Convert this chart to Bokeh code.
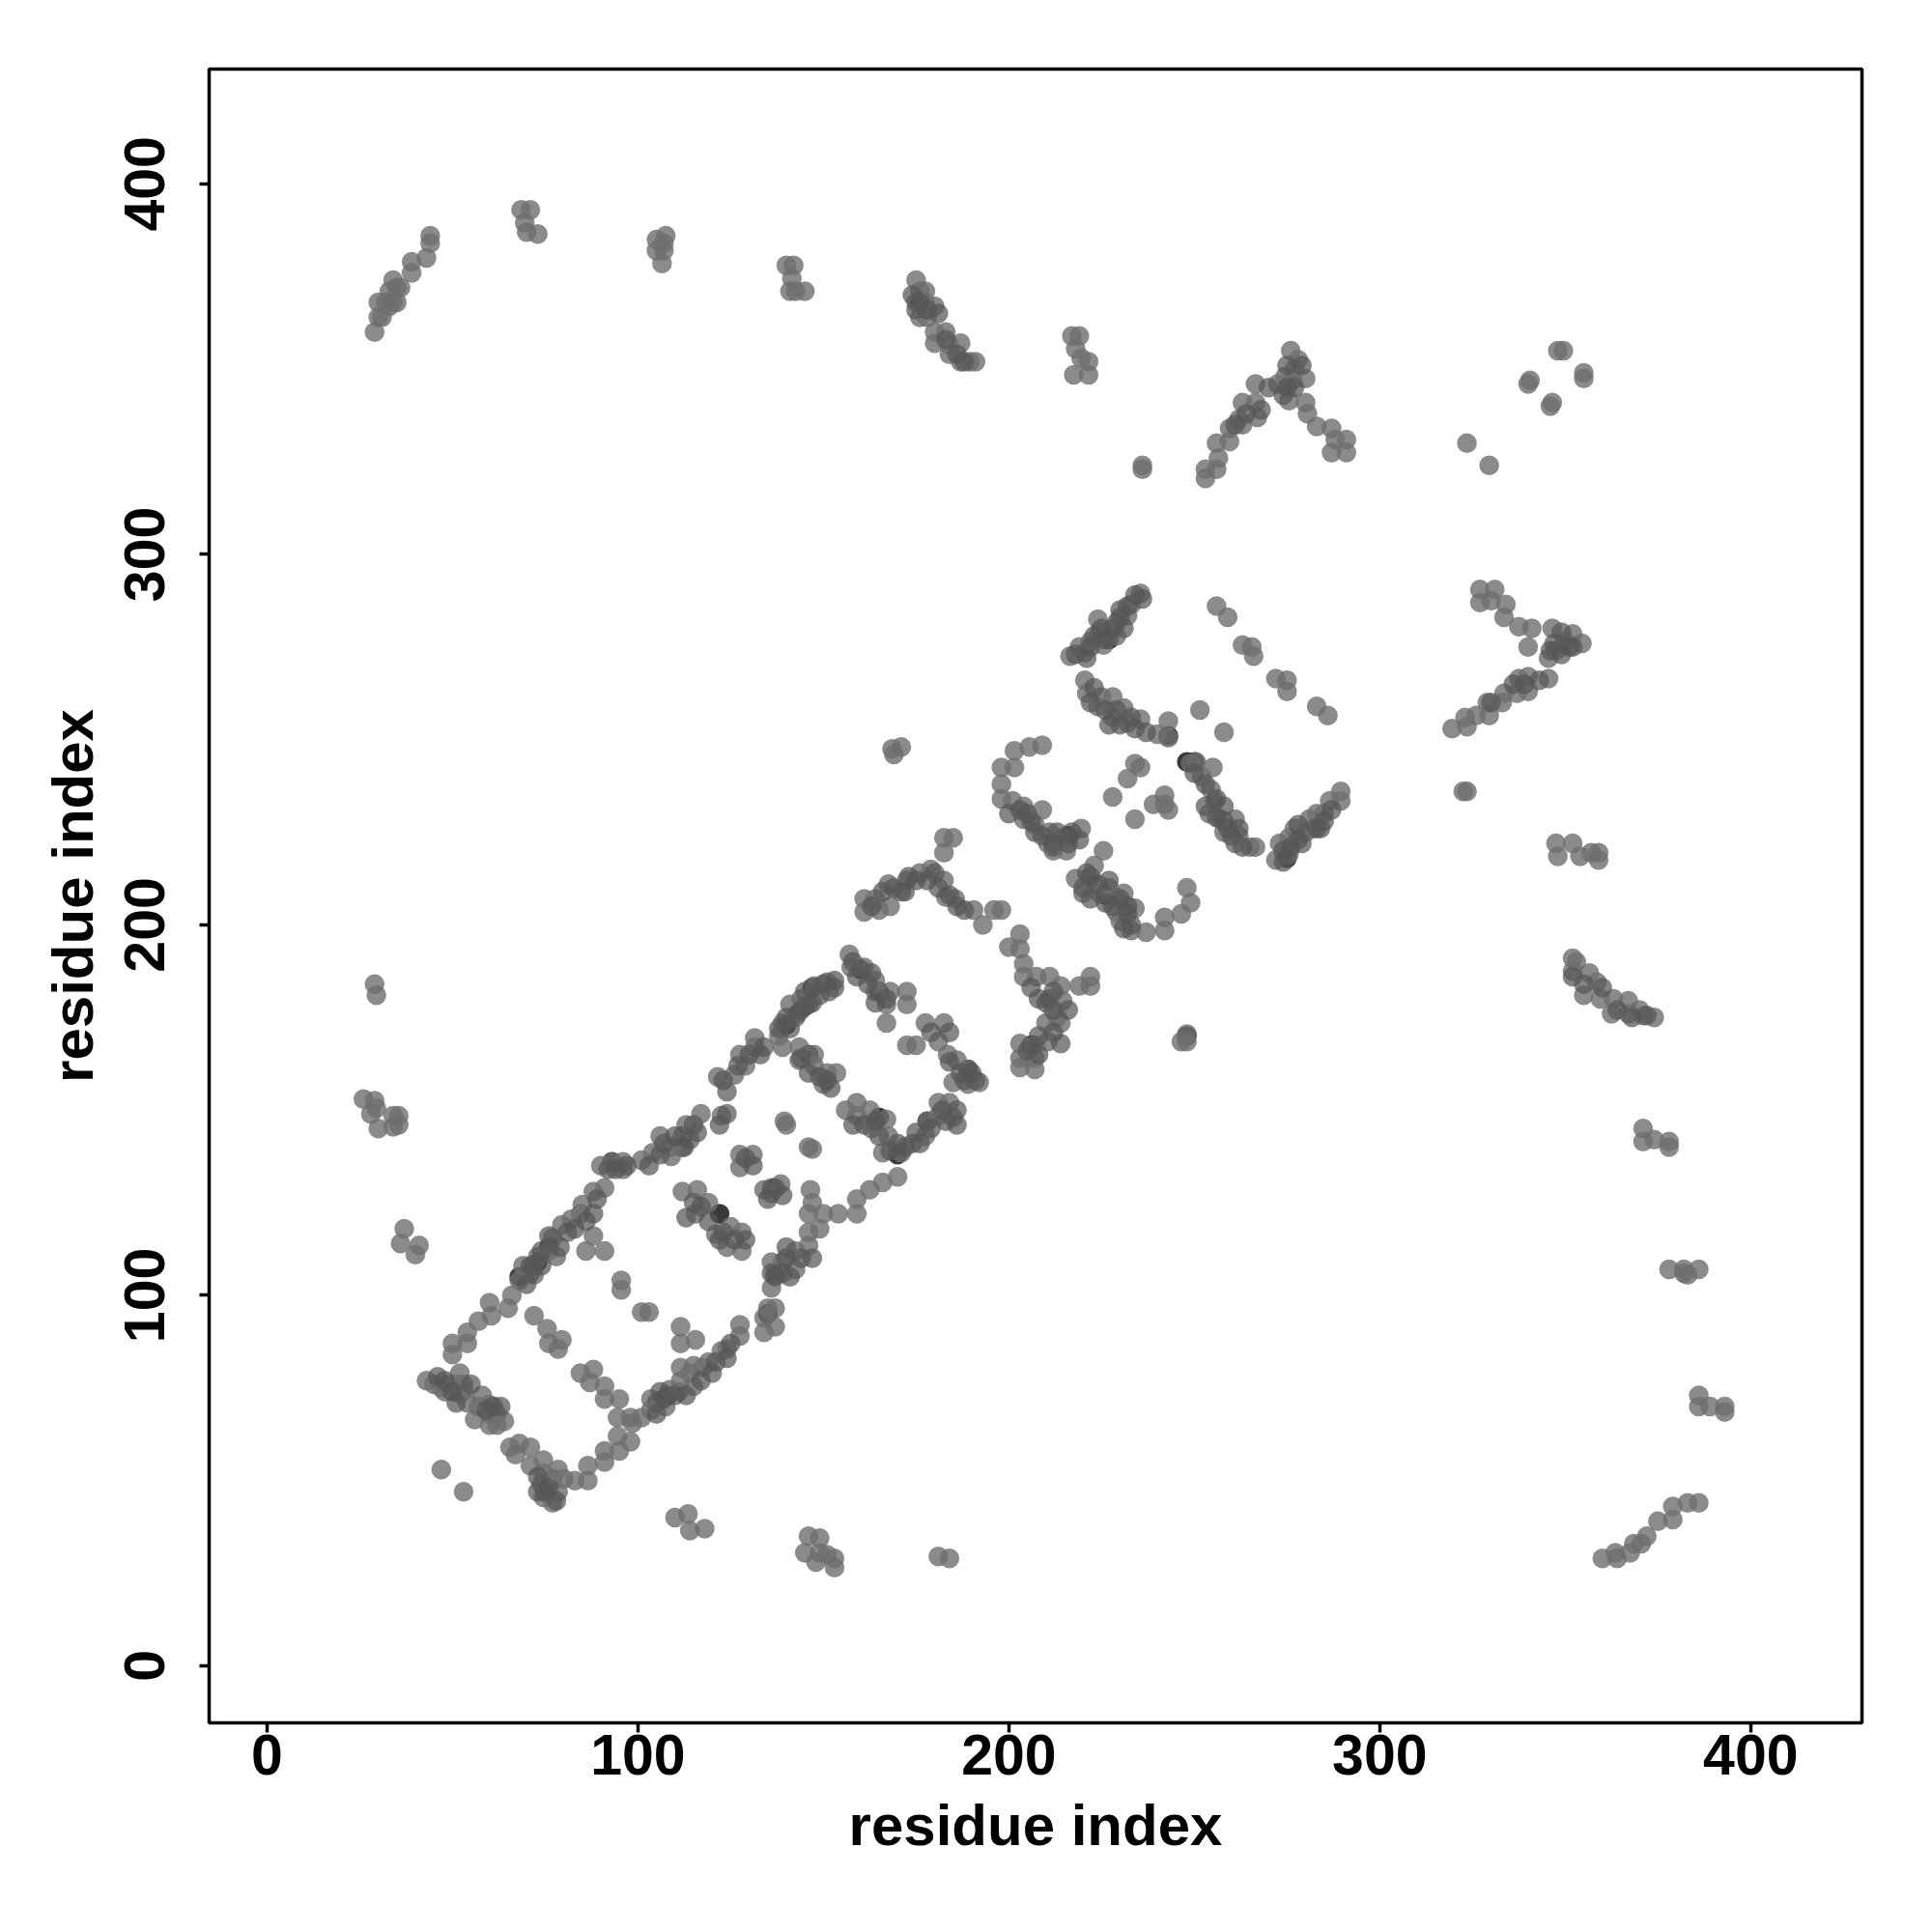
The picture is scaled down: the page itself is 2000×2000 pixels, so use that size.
from bokeh.plotting import figure
from bokeh.embed import file_html
from bokeh.resources import INLINE
from bokeh.models import FixedTicker

tick_values = [0, 100, 200, 300, 400]
x_label = "residue index"
y_label = "residue index"

arc_top = [(29,360),(30,364),(31,364),(30,368),(32,368),(33,367),(34,368),(33,371),(35,372),(35,368),(36,372),(34,374),(39,379),(39,376),(43,380),(44,384),(44,386),
 (68.5,393),(71,393),(69.5,389.5),(70,387),(73,386.5),
 (105,385),(107.5,386),(105,382),(107,382),(106.5,378.5),(107,384),
 (140,378),(142,378),(141.5,374.5),(141,371),(142.5,371),(145,371),
 (175,374),(176,371),(177.5,371),(175,368),(177.5,368),(180,367),(176,364),(178,364),(180,360),(183,360),(180,357),(184,356.5),(187,357),(184,354),(187,352),(189.5,352),(191,352),
 (217,359),(219,359),(218,355.5),(219.5,353),(217.5,348.5),(221.5,348.5),(221.5,352),(236,324),(236,323),
 (253,320.5),(253,323),(256,323),(256.5,326),(256,330),(259.5,330.5),(259.5,334),(262,336.5),(263,335),(267,337),(263,341),(266.5,341),(266.5,346),(272.5,346),(274.5,348),(277,350),(276.5,347),(280,347.5),(276,355),(278,352.5),(275.5,341.5),(280,341),(280.5,338),(283,334.5),(287,334),(291,331),(288,331),(291,327.5),(287,327.5),
 (323.5,330),(329.5,324),(340.5,347),(340,346),(346.5,341),(346,340),(348,355),(349.5,355),(355,349),(355,347.5)]

arc_right = [(347.5,222),(352,222),(348,218.5),(354,218.5),(357,219.5),(359,219.5),(359,217.5),
 (352,191),(353,190),(352,187.5),(356.5,187),(358.5,184.5),(355,181),(359.5,180),(363,180),(367,179.5),(362.5,176),(367,176),(370,177),(374,175),(371,175.5),
 (371,145),(371,141.5),(374,142),(378,141.5),(378,140),
 (378,107),(382,107),(383,105.5),(386,107),(382,106),
 (386,73),(386,70),(389,70),(393,70),(393,68.5),
 (360,29),(364,29),(367.5,30.5),(368.5,33),(372,35),(375,39),(379,43),(383,44),(386,44),(363.5,30.5),(370.5,33),(379,39.5)]

arc_bottom_left = [(110,40),(113.5,41),(114,36.5),(118,37),(146,35),(149,34.5),(145,30.5),(149,30.5),(151,30),(153,29),(153,26.5),(148,28),(181,29.5),(184,29),
 (29,184),(29.5,181),(26,153),(29,152.5),(29.5,150.5),(28,149),(30,145),(34,148.5),(35.5,148.5),(34,145.5),(35.5,146),
 (37,118),(36,114),(41,113.5),(40,111),(47,53),(53,47)]

strand_upper = [(43,77),(45,76),(47,75),(49,76),(51,76),(48,74),(52,73.5),(53,76),(52,79),(53,74),(54,71),(58,73),(57,70),(60,68),(60,65),(62,68),(62,65),(64,66),
 (50,87),(50,84),(54,87),(54,90),(57,93),(60.5,94.5),(60,98),(65,96.5),(66,100),(68,104),(69,108),(72,105.5),(73,110.5),(76,112),(78,110.5),(77,115.5),(79.5,119),(82,120.5),(84.5,122),(85,124.5),(88,128),(91,129),(90,135),(93,136),(96,136),(96,134),(101,136.5),(104,138.5),(106,143),(109,140),(109,137.5),(112.5,140),(113,146),(117,149),(122.5,148.5),(121.5,159),(126,159.5),(129,162),(131.5,167),(131.5,169.5),(127.5,165),
 (88,116),(91,112),(86,112),(72,94.5),(75.5,91),(76,87),(79.5,88),(78.5,85.5),(95.5,104),(95.5,101.5),(101,95.5),(103,95.5),
 (84.5,79),(88,80),(87,76.5),(91,75.5),(91,72),(95,72),(94.5,67),(98,67)]

strand_lower = [(56,66.5),(60,70.5),(65.5,59),(68,60),(71,59),(67,57),(71,54),(74.5,55.5),(74.5,52),(78.5,53),(77,50.5),(74,49),(74.5,45.5),(77,44),(78.5,47),(80,50.5),(83,50),(86.5,50),(86.5,54),(91,55),(91,58),(95,58),(94.5,62),(98,60.5),(98.5,65.5),(101,67),(103.5,72),(103.5,69),(107.5,70),(108.5,74.5),(111,74),(111.5,77),(115,75.5),(114,79),(117.5,80.5),(119,82),(122.5,85),(124,85.5),(127.5,89),(127.5,92),
 (111.5,91.5),(111.5,87),(115.5,88),(111.5,80.5),(115,81),
 (135,96.5),(137,96.5),(134,94),(137,91.5),(134,90),(136,102),(137,105.5),(136,109),(139,109),(142.5,107),(142.5,112),(146,113.5),(149,118),(146,117),(146,122),(147,125),(146.5,128.5),(150,122),(154,122),(159,122),(159,126),(162.5,128.5),(166,130.5),(170,132)]

inner_left = [(112,128),(116,128.5),(119,125),(115.5,122),(121,116.5),(125,118.5),(128,117),(124,113),(128,112),(127.5,138),(131,138),(127.5,134.5),(134,128.5),(138.5,130),(136,127.5),(139.5,147),(140,146),(146,140),(147,139.5)]

block_mid = [(138,170),(139,167),(139,173.5),(141,178.5),(142.5,175),(144,180),(146,178.5),(147.5,183.5),(151,184.5),(151.5,182),(157,192),(157.5,188.5),(161,188.5),(164,185),(164,182),(168,182),(172.5,182),(172.5,178.5),(167,178.5),(167,173.5),
 (143.5,167),(143.5,163.5),(147.5,165),(147.5,162),(151,160),(150,157),(153.5,160),
 (156,150),(159,152),(159,148.5),(162.5,150),(163,145),(167,147.5),(167.5,143),(166,138.5),(171,138.5),(174,141),(177.5,143),(178,147),(181,148.5),(184,152),(181,152),(185,148),
 (172.5,167.5),(175,167.5),(177.5,173.5),(182.5,173.5),(181,168.5),(183.5,165),(186,163.5),(189,161),(185,157.5),(189,157),(192,157.5)]

block_y = [(161,207),(161,203.5),(164,207),(165,204),(168,205),(167.5,211),(172.5,212),(176,214),(179,215),(182.5,212),(183,207.5),(185.5,207),(190.5,204),(182.5,219.5),(182.5,223.5),(185,223.5),(193,200),(196,204),(198,204),
 (200,194),(203,197.5),(203,193.5),(204,189.5),(204,186),(207.5,186),(211,186),(214,183.5),(219,183.5),(222,183.5),(222,186),(211,180),(214.5,179.5),(213,175),(210,173.5),(214,173.5),(210.5,168.5),(207,167.5),(203,168),(203,164),(203,161.5),(207,161),(207,164),
 (248,170.5),(248,168.5),(246.5,168.5),(168.5,247.5),(171,248),(169,246)]

block_e = [(198,242.5),(198,238),(198,234),(201.5,242.5),(201.5,247),(205.5,248),(209,248.5),(201,233.5),(204,232),(204,228.5),(209,231),(207,227),(211,225),(210.5,222),(214.5,223.5),(215.5,220),(212,220),(219.5,226),
 (225.5,220),(223,216),(218,212.5),(220,208.5),(222,213),(224.5,208.5),(227,210),(229,207.5),(231,208.5),(229,203.5),(230,201),(234,204.5),(233,198.5),(237,198),(242,198.5),(242,202),(246.5,203),(249,206),(248,210),
 (216.5,272.5),(219,275),(222,276.5),(220.5,273.5),(224.5,279),(225.5,275.5),(229,281.5),(229,278),(233,286.5),(232,283.5),(235.5,289.5),(224,282.5),
 (220.5,266),(221,262.5),(225,261.5),(228,261.5),(224,259),(228,256),(231,258.5),(232,254.5),(235.5,255.5),(243,255),(240,251.5),(243,250.5),
 (234,243.5),(235.5,242.5),(232,239.5),(228,234.5),(242,235),(242,232.5),(239,232.5),(234,228.5),(243,231)]

block_right = [(251.5,258),(258,252),(256,286),(259,283),(263,275.5),(265.5,275),(266,272.5),(272,266.5),(275,266),(275,263),(283,259),(286,256.5),
 (249,243.5),(250.5,244),(252,240),(255,242.5),(254.5,236.5),(255.5,233.5),(254,230),(257,228.5),(261,228.5),(258,225),(262,224),(265,221),(261,222),(266.5,221),
 (272,217.5),(275.5,219),(273,222),(275.5,223.5),(277,226),(280,225),(281,228.5),(283,230),(285,230),(286.5,233.5),(289.5,236),(289.5,233.5),(282,226),
 (319.5,253),(323.5,253.5),(323,256),(326,256.5),(329.5,256.5),(329,260),(333,260),(333.5,262.5),(337,262.5),(337.5,266.5),(340,263),(340,267),(345.5,266.5),(345.5,272),(347.5,274),(350,276.5),(346.5,280),(354.5,276),(352,278.5),(340,275),(341,280),(337.5,280.5),(333.5,283),(334,286.5),(330,287.5),(331,290.5),(327,287),(327,290.5),(323.5,236),(322.5,236)]

dark_pts = [(73,109),(71,106),(108,73),(105,71),(250,244),(248,244),(243,251),(206,167.5),(248,170),(160,188),(165,182),(147,183),(145,178),(112,140),(93,136),(140,173),(76,113),(68,105),(212,221),(216,224),(222,213),(226,208),(232,205),(189,161),(178,147),(170,138),(135,95),(122,122),(137,129),(275,218),(258,228),(227,277),(146,165),(165,148)]

extra_upper = [(70,103),(71,108),(74,108),(74,112),(79,113),(81,117),(83,118),(86,120),(88,122),(89,126),(92,134),(94,134),(97,135),(103,135),(106,138),(107,141),(110,143),(112,143),(114,142),(115,146),(116,144),(122,146),(124,149),(124,155),(123,158),(127,162),(130,165),(133,165),(134,167),(72,108),(76,116),(55,76),(59,69),(46,78),(48,77),(50,74),(51,71),(61,70),(63,70)]
extra_mid = [(138,172),(140,175),(141,172),(143,176),(144,177),(145,182),(147,179),(149,181),(150,184),(153,183),(153,185),(158,190),(159,186),(162,184),(163,187),(164,179),(167,180),(144,164),(146,160),(149,159),(151,158),(152,156),(158,146),(161,146),(164,147),(165,143),(168,139),(170,141),(172,140),(175,144),(176,141),(179,145),(182,150),(183,147),(186,150),(186,146),(179,171),(184,171),(184,163),(187,160),(188,158),(190,160),(191,158)]
extra_y = [(163,205),(166,209),(169,210),(171,209),(173,213),(175,212),(178,212),(180,214),(181,210),(184,208),(186,205),(188,204),(172,209),(206,183),(208,180),(210,179),(212,182),(212,177),(216,177),(212,171),(214,168),(208,170),(205,166),(208,165)]
extra_e = [(200,230),(203,231),(205,230),(207,225),(209,224),(206,228),(212,222),(213,225),(216,222),(217,225),(219,223),(220,210),(221,214),(222,207),(224,211),(226,206),(227,212),(228,205),(230,207),(232,203),(233,200),(231,199),(218,273),(221,272),(222,275),(223,278),(225,280),(226,277),(228,280),(230,283),(231,280),(232,286),(234,289),(236,288),(230,285),(222,260),(223,264),(226,258),(227,254),(229,258),(230,254),(233,256),(234,253),(237,252)]
extra_right = [(250,241),(253,238),(253,232),(256,234),(258,232),(256,229),(259,226),(260,224),(262,226),(263,221),(274,217),(274,220),(276,221),(278,223),(278,227),(279,222),(283,226),(284,226),(285,228),(287,231),(330,260),(336,265),(339,265),(343,266),(346,274),(349,273),(349,279),(351,275),(347,276),(352,275),(355,184),(360,183),(352,186),(364,177),(368,175),(372,175.5)]
extra_lower = [(73,47),(75,47),(78,44.5),(76,48),(73,51),(107,72),(105,68),(110,73),(113,73),(106,74),(117,77),(120,79),(124,83),(125,87),(121,82),(113,121),(117,124),(119,120),(115,125),(123,117),(122,115),(126,115),(129,115),(131,135),(129,137),(135,126),(136,129),(139,127),(137,105),(140,110),(141,105),(144,110),(147,110),(140,113),(136,106),(139,106)]
extra_top = [(175,366),(178,366),(174,370),(176,368),(181,365),(183,358),(186,354),(188,352),(270,345),(275,345),(277,345),(274,343),(275,351),(279,351),(264,338),(261,335),(268,339)]

p = figure(width=1992, height=1992, x_range=(-15.6, 430), y_range=(-15.4, 431),
           output_backend="svg", toolbar_location=None,
           min_border_left=216, min_border_right=65, min_border_top=71, min_border_bottom=209)
p.grid.visible = False
p.outline_line_color = "black"
p.outline_line_width = 3.5

MARK = 20.5
def draw(g, col, a):
    p.scatter([c[0] for c in g], [c[1] for c in g], size=MARK, color=col, alpha=a, line_color=None)

draw(dark_pts, "#161616", 0.85)
for g in (arc_top, arc_right, arc_bottom_left, strand_upper, strand_lower, inner_left, block_mid, block_y, block_e, block_right):
    draw(g, "#6e6e6e", 0.8)
for g in (extra_upper, extra_mid, extra_y, extra_e, extra_right, extra_lower, extra_top):
    draw(g, "#565656", 0.72)

for ax, lab in ((p.xaxis[0], x_label), (p.yaxis[0], y_label)):
    ax.ticker = FixedTicker(ticks=tick_values)
    ax.axis_label = lab
    ax.axis_line_color = None
    ax.major_tick_line_color = "black"
    ax.major_tick_line_width = 3.5
    ax.major_tick_in = 0
    ax.major_tick_out = 10
    ax.minor_tick_line_color = None
    ax.major_label_text_font = "Liberation Sans"
    ax.major_label_text_font_style = "bold"
    ax.major_label_text_font_size = "59px"
    ax.major_label_text_color = "black"
    ax.axis_label_text_font = "Liberation Sans"
    ax.axis_label_text_font_style = "bold"
    ax.axis_label_text_font_size = "60px"
    ax.axis_label_text_color = "black"
p.xaxis[0].major_label_standoff = 2
p.xaxis[0].axis_label_standoff = 16
p.yaxis[0].major_label_orientation = "vertical"
p.yaxis[0].major_label_standoff = 36
p.yaxis[0].axis_label_standoff = 18

open("out.html", "w").write(file_html(p, INLINE))
